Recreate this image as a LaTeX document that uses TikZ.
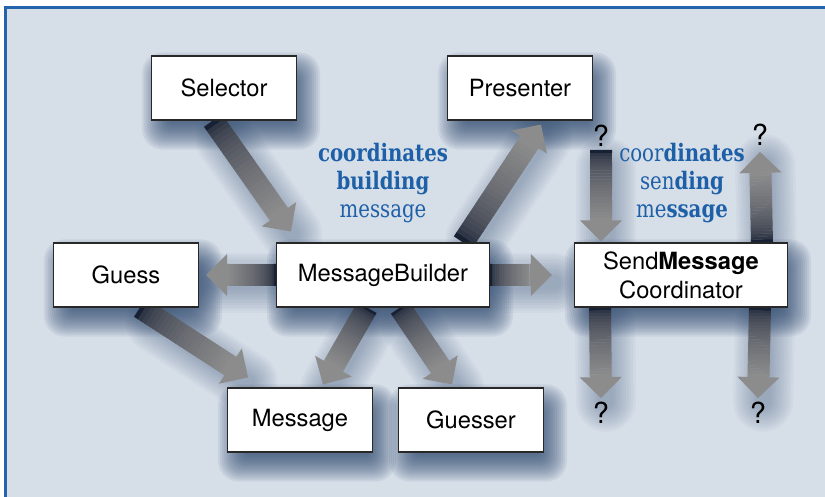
\documentclass[tikz,border=0pt]{standalone}
\usepackage{fontspec}
\setsansfont{TeX Gyre Heros}
\newfontfamily\noteserif[FakeStretch=0.82]{DejaVu Serif}
\definecolor{Panel}{RGB}{214,222,232}
\definecolor{FrameBlue}{RGB}{36,100,172}
\definecolor{NoteBlue}{RGB}{30,96,168}
\definecolor{BoxLine}{RGB}{40,40,40}
\definecolor{ShadeBlue}{RGB}{30,60,100}
\definecolor{ArrowDark}{RGB}{24,32,52}
\definecolor{ArrowGray}{RGB}{140,140,140}
\usetikzlibrary{calc, backgrounds}

% soft shadow behind a box
\newcommand{\boxshadow}[1]{%
  \foreach \r in {-0.2,-0.16,...,0.35}{
    \pgfmathsetmacro{\rc}{0.1+0.6*(\r+0.2)}
    \fill[boxshade, rounded corners=\rc cm]
      ($(#1.south west)+(0.14-\r,-0.26-\r)$) rectangle ($(#1.north east)+(0.14+\r,-0.26+\r)$);
  }
}
% soft shadow behind a fat arrow
\newcommand{\arrowshadow}[2]{%
  \foreach \w in {0.3,0.4,...,1.21}
    \draw[arrowshade, line width=\w cm] ($(#1)!0.1!(#2)+(0.1,-0.16)$) -- ($(#1)!0.95!(#2)+(0.1,-0.16)$);
}
% fat arrow, dark at its tail and grey at its head
\newcommand{\fatarrow}[2]{%
  \coordinate (fa-base) at ($(#2)!0.42cm!(#1)$);
  \foreach \i in {0,...,23}{
    \pgfmathsetmacro{\ta}{\i/24}
    \pgfmathsetmacro{\tb}{(\i+1.1)/24}
    \pgfmathtruncatemacro{\mixval}{100*sqrt(\i/23)}
    \draw[shaft, draw=ArrowGray!\mixval!ArrowDark] ($(#1)!\ta!(fa-base)$) -- ($(#1)!\tb!(fa-base)$);
  }
  \fill[arrowhead] (#2) -- ($(fa-base)!0.42cm!90:(#2)$) -- ($(fa-base)!0.42cm!-90:(#2)$) -- cycle;
}

\begin{document}
\begin{tikzpicture}
        \tikzset{
          cls/.style={draw=BoxLine, fill=white, line width=0.6pt, minimum width=2.9cm,
                      minimum height=1.28cm, inner sep=0, align=center,
                      font=\sffamily\fontsize{13.5}{16.5}\selectfont},
          wide/.style={cls, minimum width=4.26cm},
          qmark/.style={font=\sffamily\fontsize{16.5}{18}\selectfont, inner sep=1pt},
          note/.style={font=\noteserif\fontsize{13.7}{15.9}\selectfont, text=NoteBlue, align=center},
          shaft/.style={line width=0.44cm},
          arrowhead/.style={fill=ArrowGray},
          arrowshade/.style={draw=ShadeBlue, opacity=0.035, line cap=round},
          boxshade/.style={fill=ShadeBlue, opacity=0.075}
        }
        \useasboundingbox (0,0) rectangle (16.5,9.94);

        % Classes
        \node[cls] (sel) at (4.48, 8.18) {Selector};
        \node[cls] (pres) at (10.4, 8.18) {Presenter};
        \node[cls] (guess) at (2.52, 4.44) {Guess};
        \node[wide] (mb) at (7.66, 4.44) {MessageBuilder};
        \node[wide] (smc) at (13.62, 4.44) {Send\textbf{Message}\\Coordinator};
        \node[cls] (msg) at (6.0, 1.54) {Message};
        \node[cls] (gsr) at (9.42, 1.54) {Guesser};

        % Unknown partners
        \node[qmark] (q1) at (12.02, 7.22) {?};
        \node[qmark] (q2) at (15.2, 7.24) {?};
        \node[qmark] (q3) at (12.02, 1.68) {?};
        \node[qmark] (q4) at (15.16, 1.68) {?};

        % Notes
        \node[note] (build) at (7.66, 6.28) {\textbf{coordinates}\\\textbf{building}\\message};
        \node[note] (send) at (13.64, 6.28) {coor\textbf{dinates}\\sen\textbf{ding}\\me\textbf{ssage}};

        % Arrow ends
        \coordinate (a1s) at ([xshift=-0.22cm]sel.south);
        \coordinate (a1e) at ([xshift=-1.84cm, yshift=0.22cm]mb.north);
        \coordinate (a2s) at ([xshift=1.6cm]mb.north);
        \coordinate (a2e) at ([xshift=0.42cm, yshift=-0.08cm]pres.south);
        \coordinate (a3e) at ([xshift=0.14cm]guess.east);
        \coordinate (a4e) at ([xshift=-0.44cm]smc.west);
        \coordinate (a5s) at ([xshift=0.28cm]guess.south);
        \coordinate (a5e) at ([xshift=-1.04cm, yshift=0.2cm]msg.north);
        \coordinate (a6s) at ([xshift=-0.32cm]mb.south);
        \coordinate (a6e) at ([xshift=0.46cm, yshift=0.06cm]msg.north);
        \coordinate (a7s) at ([xshift=0.34cm]mb.south);
        \coordinate (a7e) at ([xshift=-0.38cm, yshift=0.06cm]gsr.north);
        \coordinate (a8s) at ([yshift=-0.02cm]q1.south);
        \coordinate (a8e) at ([xshift=-1.6cm, yshift=0.02cm]smc.north);
        \coordinate (a9s) at ([xshift=1.62cm]smc.north);
        \coordinate (a9e) at ([yshift=-0.08cm]q2.south);
        \coordinate (a10s) at ([xshift=-1.62cm]smc.south);
        \coordinate (a10e) at ([yshift=0.04cm]q3.north);
        \coordinate (a11s) at ([xshift=1.58cm]smc.south);
        \coordinate (a11e) at ([yshift=0.04cm]q4.north);

        \begin{scope}[on background layer]
          % Panel
          \fill[Panel] (0.12,0) rectangle (16.5,9.78);
          \draw[FrameBlue, line width=0.06cm] (0.12,0) -- (0.12,9.78) -- (16.5,9.78);

          % Shadows
          \foreach \n in {sel,pres,guess,mb,smc,msg,gsr}
            \boxshadow{\n};
          \foreach \s/\e in {a1s/a1e, a2s/a2e, mb.west/a3e, mb.east/a4e, a5s/a5e, a6s/a6e,
                             a7s/a7e, a8s/a8e, a9s/a9e, a10s/a10e, a11s/a11e}
            \arrowshadow{\s}{\e};

          % Arrows
          \foreach \s/\e in {a1s/a1e, a2s/a2e, mb.west/a3e, mb.east/a4e, a5s/a5e, a6s/a6e,
                             a7s/a7e, a8s/a8e, a9s/a9e, a10s/a10e, a11s/a11e}
            \fatarrow{\s}{\e};
        \end{scope}
\end{tikzpicture}
\end{document}
